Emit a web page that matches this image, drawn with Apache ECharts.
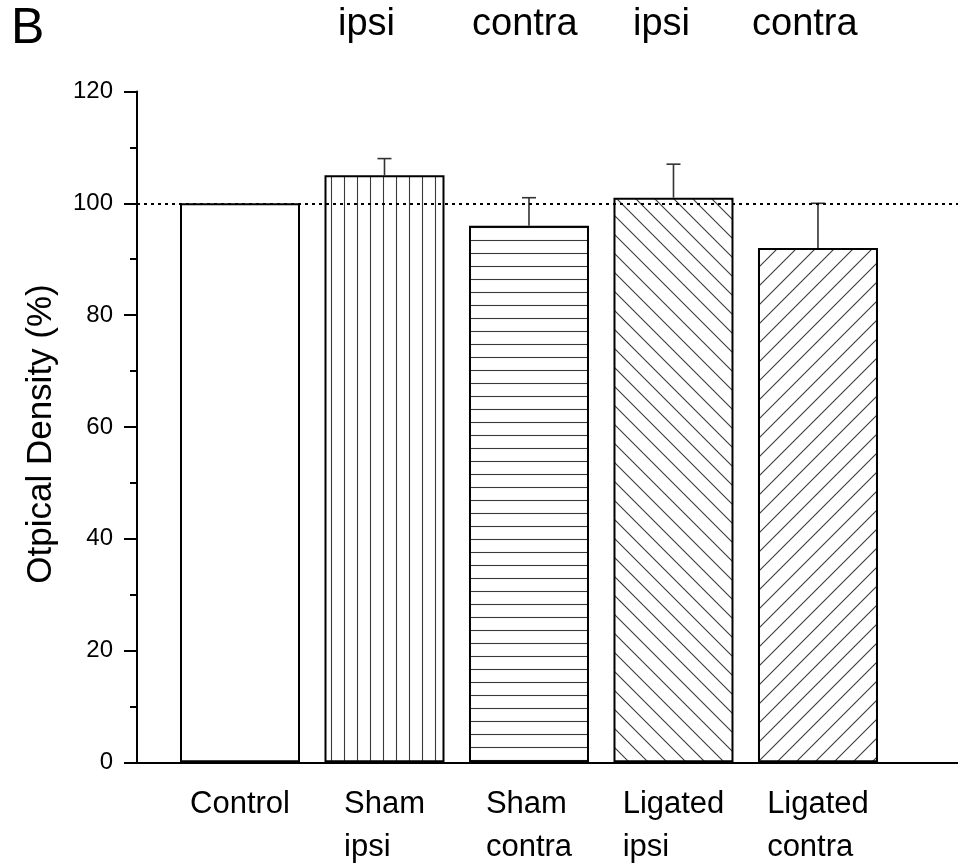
<!DOCTYPE html>
<html>
<head>
<meta charset="utf-8">
<script src="https://cdn.jsdelivr.net/npm/echarts@6/dist/echarts.min.js"></script>
<style>
  html, body { margin: 0; padding: 0; background: #fff; }
  #chart { width: 958px; height: 865px; }
</style>
</head>
<body>
<div id="chart"></div>
<script>
// ---- data ----
const categories = ['Control', 'Sham\nipsi', 'Sham\ncontra', 'Ligated\nipsi', 'Ligated\ncontra'];
const values = [100, 105, 96, 101, 92];
const errorTops = [null, 108, 101, 107, 100];
const referenceValue = 100;
const yTicks = [0, 20, 40, 60, 80, 100, 120];
const topLabels = ['ipsi', 'contra', 'ipsi', 'contra'];
const panelLetter = 'B';
const yTitle = 'Otpical Density (%)';

// ---- styling helpers ----
const FONT = '"Liberation Sans", Arial, Helvetica, sans-serif';
const fillKinds = ['none', 'vertical', 'horizontal', 'backslash', 'slash'];

function makePattern(kind) {
  if (kind === 'none') return '#ffffff';
  const s = (kind === 'vertical' || kind === 'horizontal') ? 13 : 19;
  const c = document.createElement('canvas');
  c.width = s; c.height = s;
  const ctx = c.getContext('2d');
  ctx.fillStyle = '#ffffff';
  ctx.fillRect(0, 0, s, s);
  ctx.strokeStyle = '#3a3a3a';
  ctx.lineWidth = 1.1;
  ctx.beginPath();
  if (kind === 'vertical') {
    ctx.moveTo(6.5, 0); ctx.lineTo(6.5, s);
  } else if (kind === 'horizontal') {
    ctx.moveTo(0, 6.5); ctx.lineTo(s, 6.5);
  } else if (kind === 'backslash') {
    for (const k of [-1, 0, 1]) { ctx.moveTo(k * s - 2, -2); ctx.lineTo(k * s + s + 2, s + 2); }
  } else if (kind === 'slash') {
    for (const k of [0, 1, 2]) { ctx.moveTo(k * s + 2, -2); ctx.lineTo(k * s - s - 2, s + 2); }
  }
  ctx.stroke();
  return { image: c, repeat: 'repeat' };
}

const positions = categories.map((_, i) => i + 1);

const barData = values.map((v, i) => ({
  value: [positions[i], v],
  itemStyle: { color: makePattern(fillKinds[i]) }
}));

const errData = [];
values.forEach((v, i) => {
  if (errorTops[i] != null) errData.push([positions[i], v, errorTops[i]]);
});

const chart = echarts.init(document.getElementById('chart'), null, { renderer: 'canvas' });

const topLabelX = [338, 472, 633, 752];

const option = {
  animation: false,
  backgroundColor: '#ffffff',
  textStyle: { fontFamily: FONT },
  grid: { left: 137, right: 0, top: 91.5, bottom: 102.7, containLabel: false, outerBoundsMode: 'none' },
  xAxis: {
    type: 'value',
    min: 0.2872,
    max: 5.969,
    axisLine: { show: true, onZero: false, lineStyle: { color: '#000', width: 2 } },
    axisTick: { show: false },
    splitLine: { show: false },
    axisLabel: {
      customValues: positions,
      margin: 21,
      color: '#000',
      fontFamily: FONT,
      fontSize: 31,
      lineHeight: 43,
      hideOverlap: false,
      formatter: function (v) {
        const idx = Math.round(v) - 1;
        const lab = categories[idx];
        if (lab == null) return '';
        return lab.split('\n').map(s => '{l|' + s + '}').join('\n');
      },
      rich: {
        l: { align: 'left', fontSize: 31, lineHeight: 43, color: '#000', fontFamily: FONT }
      }
    }
  },
  yAxis: {
    type: 'value',
    min: yTicks[0],
    max: yTicks[yTicks.length - 1],
    interval: yTicks[1] - yTicks[0],
    axisLine: { show: true, lineStyle: { color: '#000', width: 2 } },
    axisTick: { show: true, inside: false, length: 13, lineStyle: { color: '#000', width: 2 } },
    minorTick: { show: true, splitNumber: 2, length: 7, lineStyle: { color: '#000', width: 2 } },
    splitLine: { show: false },
    minorSplitLine: { show: false },
    axisLabel: { fontSize: 24, color: '#000', margin: 24, fontFamily: FONT }
  },
  series: [
    {
      type: 'bar',
      data: barData,
      barWidth: 120,
      itemStyle: { borderColor: '#000', borderWidth: 2 },
      markLine: {
        silent: true,
        symbol: 'none',
        label: { show: false },
        lineStyle: { color: '#000', width: 2, type: [3, 4] },
        data: [{ yAxis: referenceValue }],
        z: 10
      },
      z: 2
    },
    {
      type: 'custom',
      z: 5,
      data: errData,
      renderItem: function (params, api) {
        const base = api.coord([api.value(0), api.value(1)]);
        const top = api.coord([api.value(0), api.value(2)]);
        const hw = 7;
        return {
          type: 'group',
          children: [
            { type: 'line', shape: { x1: base[0], y1: base[1], x2: top[0], y2: top[1] },
              style: { stroke: '#333', lineWidth: 1.6 } },
            { type: 'line', shape: { x1: top[0] - hw, y1: top[1], x2: top[0] + hw, y2: top[1] },
              style: { stroke: '#333', lineWidth: 1.6 } }
          ]
        };
      }
    }
  ],
  graphic: [
    { type: 'text', left: 11, top: 4,
      style: { text: panelLetter, fontSize: 50, fill: '#000', fontFamily: FONT } },
    { type: 'text', x: 41, y: 434, rotation: Math.PI / 2,
      style: { text: yTitle, fontSize: 35, fill: '#000', fontFamily: FONT,
               align: 'center', verticalAlign: 'middle' } }
  ].concat(topLabels.map((t, i) => ({
    type: 'text', left: topLabelX[i], top: 6,
    style: { text: t, fontSize: 38, fill: '#000', fontFamily: FONT }
  })))
};

chart.setOption(option);
</script>
</body>
</html>
